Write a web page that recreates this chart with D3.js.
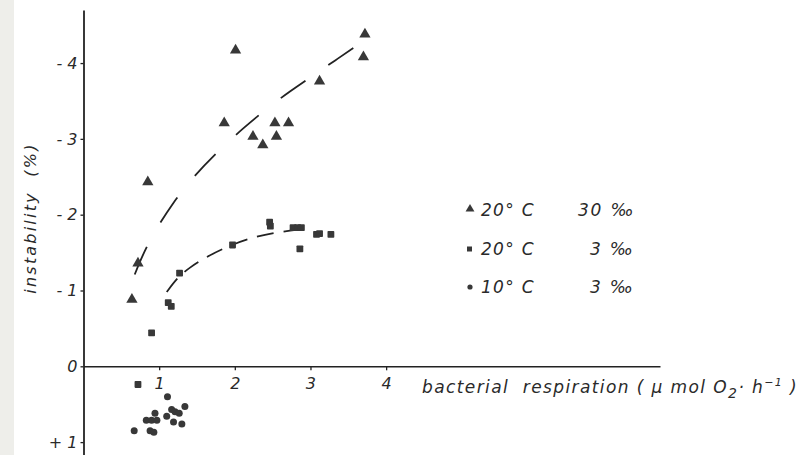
<!DOCTYPE html>
<html>
<head>
<meta charset="utf-8">
<script src="https://cdn.jsdelivr.net/npm/d3@7"></script>
<style>
  body { margin: 0; background: #fff; }
  svg text { font-family: "DejaVu Sans", sans-serif; font-style: italic; fill: #2a2a2a; white-space: pre; }
</style>
</head>
<body>
<svg id="chart" width="797" height="455"></svg>
<script>
// data (x = bacterial respiration, y = instability %)
var tri30 = [[0.64,-0.88],[0.72,-1.36],[0.85,-2.43],[1.86,-3.21],[2.01,-4.17],[2.24,-3.03],
             [2.37,-2.92],[2.53,-3.21],[2.55,-3.03],[2.71,-3.21],[3.12,-3.76],[3.70,-4.08],[3.72,-4.38]];
var sq3 = [[0.72,0.24],[0.90,-0.44],[1.12,-0.84],[1.16,-0.79],[1.27,-1.23],[1.97,-1.60],
           [2.46,-1.90],[2.47,-1.85],[2.77,-1.83],[2.83,-1.83],[2.88,-1.83],[2.86,-1.55],
           [3.08,-1.74],[3.12,-1.75],[3.27,-1.74]];
var circ3 = [[0.67,0.85],[0.83,0.71],[0.90,0.71],[0.97,0.71],[0.945,0.62],[0.88,0.85],[0.93,0.87],
             [1.11,0.40],[1.10,0.66],[1.165,0.57],[1.21,0.60],[1.265,0.62],[1.34,0.53],[1.19,0.735],[1.30,0.76]];
// hand-drawn trend curves
var curveTri = [[0.63,-1.09],[0.75,-1.40],[0.92,-1.75],[1.19,-2.17],[1.45,-2.50],[1.78,-2.84],
                [2.12,-3.15],[2.41,-3.39],[2.73,-3.63],[3.04,-3.84],[3.32,-4.03],[3.64,-4.25]];
var curveSq = [[1.10,-0.98],[1.25,-1.18],[1.40,-1.30],[1.60,-1.43],[1.90,-1.58],[2.2,-1.69],
               [2.5,-1.76],[2.9,-1.81]];
var xTicks = [1, 2, 3, 4];
var yTicks = [-4, -3, -2, -1, 0, 1];
var yTickLabels = ["- 4", "- 3", "- 2", "- 1", "0", "+ 1"];
var legendTemp = ["20° C", "20° C", "10° C"];
var legendSal = ["30 ‰", "3 ‰", "3 ‰"];

var svg = d3.select("#chart");
var ink = "#383838";

// scanned page edge
svg.append("rect").attr("x", 0).attr("y", 0).attr("width", 14).attr("height", 455).attr("fill", "#eeeeea");

var x = d3.scaleLinear().domain([0, 7.62]).range([83.5, 660]);
var y = d3.scaleLinear().domain([-4.7, 1.17]).range([10, 455]);

// axes
var xAxis = svg.append("g")
    .attr("transform", "translate(0," + y(0) + ")")
    .call(d3.axisBottom(x).tickValues(xTicks).tickSize(4).tickSizeOuter(0).tickFormat(d3.format("d")));
xAxis.select(".domain").attr("stroke", "#222").attr("stroke-width", 1.6);
xAxis.selectAll(".tick line").attr("stroke", "#222").attr("stroke-width", 1.3);
xAxis.selectAll(".tick text").attr("font-size", 16).attr("dy", "1.0em").attr("fill", "#2a2a2a");

var yAxis = svg.append("g")
    .attr("transform", "translate(" + x(0) + ",0)")
    .call(d3.axisLeft(y).tickValues(yTicks).tickSize(3).tickSizeOuter(0)
        .tickFormat((d, i) => yTickLabels[i]));
yAxis.select(".domain").attr("stroke", "#222").attr("stroke-width", 1.8);
yAxis.selectAll(".tick line").attr("stroke", "#222").attr("stroke-width", 1.3);
yAxis.selectAll(".tick text").attr("font-size", 16).attr("x", -6).attr("fill", "#2a2a2a");

// axis titles
svg.append("text")
    .attr("transform", "translate(36,218) rotate(-90)")
    .attr("text-anchor", "middle")
    .attr("font-size", 16)
    .attr("letter-spacing", 2.2)
    .text("instability  (%)");

var xt = svg.append("text").attr("x", 422).attr("y", 393).attr("font-size", 17).attr("letter-spacing", 1.4);
xt.append("tspan").text("bacterial  respiration ( µ mol O");
xt.append("tspan").attr("font-size", 14).attr("dy", 5).text("2");
xt.append("tspan").attr("dy", -5).text("· h");
xt.append("tspan").attr("font-size", 11).attr("dy", -7).text("−1");
xt.append("tspan").attr("dy", 7).text(" )");

// trend lines
var line = d3.line().x(d => x(d[0])).y(d => y(d[1])).curve(d3.curveBasis);
svg.append("path").datum(curveTri).attr("d", line)
    .attr("fill", "none").attr("stroke", "#222").attr("stroke-width", 1.8)
    .attr("stroke-dasharray", "30 28").attr("stroke-dashoffset", -10);
svg.append("path").datum(curveSq).attr("d", line)
    .attr("fill", "none").attr("stroke", "#222").attr("stroke-width", 1.8)
    .attr("stroke-dasharray", "17 10");

// markers
var triSym = d3.symbol().type(d3.symbolTriangle).size(55);
svg.append("g").selectAll("path").data(tri30).join("path")
    .attr("d", triSym)
    .attr("transform", d => "translate(" + x(d[0]) + "," + y(d[1]) + ")")
    .attr("fill", ink);

svg.append("g").selectAll("rect").data(sq3).join("rect")
    .attr("x", d => x(d[0]) - 3.4).attr("y", d => y(d[1]) - 3.4)
    .attr("width", 6.8).attr("height", 6.8).attr("rx", 0.8)
    .attr("fill", ink);

svg.append("g").selectAll("circle").data(circ3).join("circle")
    .attr("cx", d => x(d[0])).attr("cy", d => y(d[1])).attr("r", 3.5)
    .attr("fill", ink);

// legend
var legendY = [210, 249, 287];
var lg = svg.append("g");
legendTemp.forEach((t, i) => {
    var cy = legendY[i];
    if (i === 0) lg.append("path").attr("d", d3.symbol().type(d3.symbolTriangle).size(34)())
        .attr("transform", "translate(470," + (cy - 1) + ")").attr("fill", ink);
    if (i === 1) lg.append("rect").attr("x", 467).attr("y", cy - 2.5).attr("width", 5).attr("height", 5).attr("fill", ink);
    if (i === 2) lg.append("circle").attr("cx", 470).attr("cy", cy).attr("r", 2.6).attr("fill", ink);
    lg.append("text").attr("x", 481).attr("y", cy + 6).attr("font-size", 17).attr("letter-spacing", 1.3).text(t);
    lg.append("text").attr("x", i === 0 ? 578 : 590).attr("y", cy + 6).attr("font-size", 17).attr("letter-spacing", 1.8).text(legendSal[i]);
});
</script>
</body>
</html>
